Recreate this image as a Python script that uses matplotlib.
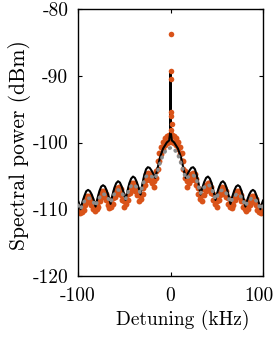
import matplotlib
matplotlib.use("Agg")
import matplotlib.pyplot as plt
import matplotlib.transforms as mtransforms
import numpy as np

plt.rcParams["font.family"] = ["cmr10", "DejaVu Serif"]
plt.rcParams["mathtext.fontset"] = "cm"
plt.rcParams["axes.unicode_minus"] = False

# --- model curve (black), detuning in kHz, power in dBm
black_x = [-100, -99.2, -97.2, -95.2, -93.1, -91.1, -89.1, -87.1, -85.1, -83.0,
           -81, -79.0, -76.9, -74.9, -72.9, -70.9, -68.9, -66.8, -64.8, -62.8,
           -60.7, -58.7, -56.7, -54.7, -52.7, -50.6, -48.6, -46.6, -44.5, -42.5,
           -40.5, -38.5, -36.5, -34.4, -32.4, -30.4, -28.4, -26.4, -24.5, -22.5,
           -20.5, -18.5, -16.5, -14, -11.5, -8, -4, -1.5, -0.3,
           0, 0.3, 1.5, 4, 8, 11.5, 14, 16.5, 18.5, 20.5, 22.5, 24.5, 26.4, 28.4,
           30.4, 32.4, 34.4, 36.5, 38.5, 40.5, 42.5, 44.5, 46.6, 48.6, 50.6, 52.7,
           54.7, 56.7, 58.7, 60.7, 62.8, 64.8, 66.8, 68.9, 70.9, 72.9, 74.9, 76.9,
           79.0, 81, 83.0, 85.1, 87.1, 89.1, 91.1, 93.1, 95.2, 97.2, 99.2, 100]
black_y = [-108.7, -109.0, -110.0, -108.9, -108.0, -107.3, -107.1, -107.3, -107.8, -108.6,
           -109.6, -108.4, -107.3, -106.6, -106.4, -106.6, -107.2, -108.1, -109.2, -107.9,
           -106.8, -106.1, -105.8, -106.0, -106.6, -107.5, -108.6, -107.3, -106.1, -105.4,
           -105.1, -105.3, -105.9, -106.8, -107.8, -106.2, -104.9, -104.0, -103.7, -103.8,
           -104.2, -104.7, -105.3, -103.9, -102.3, -100.9, -100.0, -99.7, -98.5,
           -89.5, -98.5, -99.7, -100.0, -100.9, -102.3, -103.9, -105.3, -104.7, -104.2, -103.8, -103.7, -104.0, -104.9,
           -106.2, -107.8, -106.8, -105.9, -105.3, -105.1, -105.4, -106.1, -107.3, -108.6, -107.5, -106.6,
           -106.0, -105.8, -106.1, -106.8, -107.9, -109.2, -108.1, -107.2, -106.6, -106.4, -106.6, -107.3,
           -108.4, -109.6, -108.6, -107.8, -107.3, -107.1, -107.3, -108.0, -108.9, -110.0, -109.0, -108.7]

# --- second model curve (grey dotted)
grey_x = [-100, -99.2, -97.2, -95.2, -93.1, -91.1, -89.1, -87.1, -85.1, -83.0,
          -81, -79.0, -76.9, -74.9, -72.9, -70.9, -68.9, -66.8, -64.8, -62.8,
          -60.7, -58.7, -56.7, -54.7, -52.7, -50.6, -48.6, -46.6, -44.5, -42.5,
          -40.5, -38.5, -36.5, -34.4, -32.4, -30.4, -28.4, -26.4, -24.5, -22.5,
          -20.5, -18.5, -16.5, -14, -11.5, -8, -4,
          0, 4, 8, 11.5, 14, 16.5, 18.5, 20.5, 22.5, 24.5, 26.4, 28.4,
          30.4, 32.4, 34.4, 36.5, 38.5, 40.5, 42.5, 44.5, 46.6, 48.6, 50.6, 52.7,
          54.7, 56.7, 58.7, 60.7, 62.8, 64.8, 66.8, 68.9, 70.9, 72.9, 74.9, 76.9,
          79.0, 81, 83.0, 85.1, 87.1, 89.1, 91.1, 93.1, 95.2, 97.2, 99.2, 100]
grey_y = [-109.4, -109.6, -110.0, -109.3, -108.8, -108.5, -108.3, -108.4, -108.7, -109.0,
          -109.5, -108.8, -108.3, -107.8, -107.7, -107.8, -108.1, -108.5, -109.0, -108.3,
          -107.7, -107.3, -107.1, -107.2, -107.5, -108.0, -108.5, -107.7, -106.9, -106.5,
          -106.3, -106.4, -106.7, -107.1, -107.6, -106.6, -105.7, -105.1, -104.9, -104.9,
          -105.1, -105.2, -105.4, -104.3, -103.2, -101.8, -101.0,
          -100.8, -101.0, -101.8, -103.2, -104.3, -105.4, -105.2, -105.1, -104.9, -104.9, -105.1, -105.7,
          -106.6, -107.6, -107.1, -106.7, -106.4, -106.3, -106.5, -106.9, -107.7, -108.5, -108.0, -107.5,
          -107.2, -107.1, -107.3, -107.7, -108.3, -109.0, -108.5, -108.1, -107.8, -107.7, -107.8, -108.3,
          -108.8, -109.5, -109.0, -108.7, -108.4, -108.3, -108.5, -108.8, -109.3, -110.0, -109.6, -109.4]

# --- measured spectrum (orange dots): upper and lower edge of the band, 2 kHz grid
meas_x = np.arange(-100, 101, 2)
meas_hi = [-109.5, -109.9, -109.7, -109.2, -108.4, -108.0, -108.0, -108.4, -109.0, -109.5,
           -109.3, -108.7, -107.8, -107.3, -107.3, -107.7, -108.4, -109.0, -109.0, -108.3,
           -107.3, -106.8, -106.7, -107.0, -107.7, -108.7, -108.5, -107.7, -106.7, -106.1,
           -106.0, -106.3, -106.9, -107.8, -107.8, -106.8, -105.5, -104.7, -104.5, -104.7,
           -105.1, -105.7, -104.3, -102.8, -101.6, -100.6, -99.9, -99.4, -99.1, -98.9,
           -98.8,
           -98.9, -99.1, -99.4, -99.9, -100.6, -101.6, -102.8, -104.3, -105.7, -105.1,
           -104.7, -104.5, -104.7, -105.5, -106.8, -107.8, -107.8, -106.9, -106.3, -106.0,
           -106.1, -106.7, -107.7, -108.5, -108.7, -107.7, -107.0, -106.7, -106.8, -107.3,
           -108.3, -109.0, -109.0, -108.4, -107.7, -107.3, -107.3, -107.8, -108.7, -109.3,
           -109.5, -109.0, -108.4, -108.0, -108.0, -108.4, -109.2, -109.7, -109.9, -109.5]
meas_lo = [-110.4, -110.6, -110.4, -110.1, -109.3, -108.9, -108.9, -109.3, -109.9, -110.2,
           -110.0, -109.6, -108.7, -108.2, -108.2, -108.6, -109.3, -109.8, -109.7, -109.2,
           -108.2, -107.7, -107.6, -107.9, -108.6, -109.6, -109.2, -108.6, -107.6, -107.0,
           -106.9, -107.2, -107.8, -108.7, -108.5, -107.7, -106.4, -105.6, -105.4, -105.6,
           -106.0, -106.6, -105.3, -103.9, -102.7, -101.7, -100.9, -100.4, -100.1, -99.9,
           -99.8,
           -99.9, -100.1, -100.4, -100.9, -101.7, -102.7, -103.9, -105.3, -106.6, -106.0,
           -105.6, -105.4, -105.6, -106.4, -107.7, -108.5, -108.7, -107.8, -107.2, -106.9,
           -107.0, -107.6, -108.6, -109.2, -109.6, -108.6, -107.9, -107.6, -107.7, -108.2,
           -109.2, -109.7, -109.8, -109.3, -108.6, -108.2, -108.2, -108.7, -109.6, -110.0,
           -110.2, -109.9, -109.3, -108.9, -108.9, -109.3, -110.1, -110.4, -110.6, -110.4]

# carrier points near zero detuning
spike_x = [0.2, 0.3, 0.9, 0.2, 0.8, 1.2, 0.6]
spike_y = [-83.7, -89.3, -90.5, -95.5, -96.1, -97.2, -98.2]

ORANGE = "#D95319"

fig = plt.figure(figsize=(2.75, 3.38), dpi=100)
ax = fig.add_axes([78 / 275, 62 / 338, 185 / 275, 267 / 338])

ax.scatter(meas_x, meas_lo, s=18, color=ORANGE, linewidths=0, zorder=2)
ax.scatter(meas_x, meas_hi, s=18, color=ORANGE, linewidths=0, zorder=2)
ax.plot(black_x, black_y, color="black", lw=1.5, zorder=3)
ax.plot(grey_x, grey_y, color="#8c8c8c", lw=2.6, zorder=4,
        linestyle=(0, (0.2, 1.6)), dash_capstyle="round")
ax.scatter(spike_x, spike_y, s=16, color=ORANGE, linewidths=0, zorder=5)

ax.set_xlim(-100, 100)
ax.set_ylim(-120, -80)
ax.set_xticks([-100, 0, 100])
ax.set_xticklabels(["-100", "0", "100"])
ax.set_yticks([-120, -110, -100, -90, -80])
ax.set_yticklabels(["-120", "-110", "-100", "-90", "-80"])
ax.tick_params(direction="in", top=True, right=True, length=3, width=0.8,
               labelsize=14)
ax.tick_params(axis="x", pad=8)
ax.tick_params(axis="y", pad=7)
# keep the right-most tick label inside the figure
lbl = ax.get_xticklabels()[-1]
lbl.set_transform(lbl.get_transform()
                  + mtransforms.ScaledTranslation(-4 / 100, 0, fig.dpi_scale_trans))
for sp in ax.spines.values():
    sp.set_linewidth(1.0)
ax.set_xlabel("Detuning (kHz)", fontsize=14)
ax.set_ylabel("Spectral power (dBm)", fontsize=15.5)
ax.xaxis.set_label_coords(0.565, -0.125)
ax.yaxis.set_label_coords(-0.255, 0.49)

fig.savefig("out.png", dpi=100)
